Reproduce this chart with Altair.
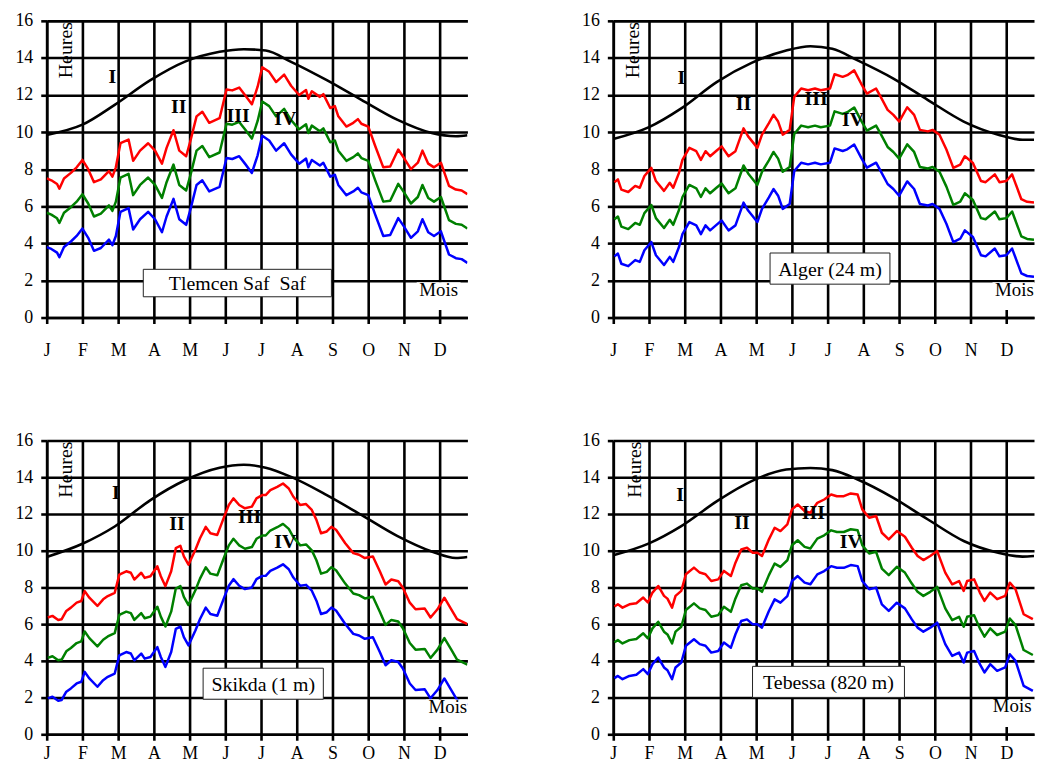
import json
import altair as alt
import pandas as pd

FONT = "Liberation Serif"
MONTHS = ["J", "F", "M", "A", "M", "J", "J", "A", "S", "O", "N", "D"]
MONTH_TICKS = [0, 31, 62, 93, 124, 155, 186, 217, 248, 279, 310, 341]
HOUR_TICKS = [0, 2, 4, 6, 8, 10, 12, 14, 16]
ROMANS = ["I", "II", "III", "IV"]
SERIES = ["rouge", "vert", "bleu"]
SERIES_COLORS = ["#ff0000", "#008000", "#0000ff"]

# ---------------- day length (black curve) ----------------
DL_DAYS = [0, 31, 59, 90, 120, 150, 171, 190, 212, 243, 273, 304, 334, 355, 365]
TLEMCEN_DL = [9.85, 10.4, 11.47, 12.8, 13.8, 14.33, 14.47, 14.4, 13.79, 12.8, 11.74, 10.67, 9.95, 9.78, 9.83]
ALGER_DL = [9.63, 10.27, 11.28, 12.71, 13.73, 14.4, 14.63, 14.49, 13.87, 12.89, 11.73, 10.57, 9.86, 9.59, 9.59]
SKIKDA_DL = [9.66, 10.38, 11.32, 12.76, 13.84, 14.52, 14.68, 14.52, 14.02, 13.03, 11.95, 10.81, 9.96, 9.6, 9.66]
TEBESSA_DL = [9.75, 10.4, 11.34, 12.7, 13.79, 14.42, 14.51, 14.39, 13.88, 12.88, 11.7, 10.53, 9.89, 9.68, 9.71]

# ---------------- Tlemcen ----------------
TLEMCEN_DAYS = [0, 4, 9, 11, 15, 21, 26, 31, 36, 41, 47, 54, 57, 60, 64, 71, 75, 81, 88, 94,
                100, 104, 110, 115, 121, 125, 130, 135, 141, 150, 156, 161, 167, 172, 178, 183, 187, 193, 199, 206,
                212, 219, 225, 227, 230, 237, 240, 246, 250, 253, 260, 266, 270, 273, 279, 285, 292, 298, 305, 310,
                316, 322, 326, 331, 336, 342, 349, 355, 360, 365]
TLEMCEN_RED = [7.5, 7.4, 7.2, 6.95, 7.5, 7.8, 8.1, 8.5, 8.0, 7.3, 7.45, 7.9, 7.6, 8.1, 9.4, 9.6, 8.45, 9.0, 9.4, 9.0,
               8.3, 9.15, 10.1, 9.0, 8.7, 9.6, 10.85, 11.1, 10.5, 10.75, 12.3, 12.25, 12.4, 12.0, 11.5, 12.45, 13.5, 13.25, 12.7, 13.1,
               12.5, 12.0, 12.27, 11.8, 12.2, 11.9, 12.05, 11.3, 11.4, 10.85, 10.3, 10.5, 10.7, 10.45, 10.3, 9.25, 8.1, 8.15, 9.06, 8.6,
               8.0, 8.35, 9.0, 8.3, 8.1, 8.35, 7.1, 6.9, 6.85, 6.65]
TLEMCEN_GREEN = [5.65, 5.55, 5.35, 5.1, 5.65, 5.95, 6.25, 6.65, 6.15, 5.45, 5.6, 6.05, 5.75, 6.25, 7.55, 7.75, 6.6, 7.15, 7.55, 7.15,
                 6.45, 7.3, 8.25, 7.15, 6.85, 7.75, 9.0, 9.25, 8.65, 8.9, 10.45, 10.4, 10.55, 10.15, 9.65, 10.6, 11.65, 11.4, 10.85, 11.25,
                 10.65, 10.15, 10.42, 9.95, 10.35, 10.05, 10.2, 9.45, 9.55, 9.0, 8.45, 8.65, 8.85, 8.6, 8.45, 7.4, 6.25, 6.3, 7.21, 6.75,
                 6.15, 6.5, 7.15, 6.45, 6.25, 6.5, 5.25, 5.05, 5.0, 4.8]
TLEMCEN_BLUE = [3.8, 3.7, 3.5, 3.25, 3.8, 4.1, 4.4, 4.8, 4.3, 3.6, 3.75, 4.2, 3.9, 4.4, 5.7, 5.9, 4.75, 5.3, 5.7, 5.3,
                4.6, 5.45, 6.4, 5.3, 5.0, 5.9, 7.15, 7.4, 6.8, 7.05, 8.6, 8.55, 8.7, 8.3, 7.8, 8.75, 9.8, 9.55, 9.0, 9.4,
                8.8, 8.3, 8.57, 8.1, 8.5, 8.2, 8.35, 7.6, 7.7, 7.15, 6.6, 6.8, 7.0, 6.75, 6.6, 5.55, 4.4, 4.45, 5.36, 4.9,
                4.3, 4.65, 5.3, 4.6, 4.4, 4.65, 3.4, 3.2, 3.15, 2.95]

# ---------------- Alger ----------------
ALGER_DAYS = [1, 4, 7, 13, 19, 23, 27, 33, 37, 44, 49, 52, 57, 60, 66, 72, 76, 80, 84, 89,
              94, 100, 106, 113, 117, 125, 129, 135, 139, 143, 147, 153, 157, 163, 169, 175, 180, 188, 192, 199,
              203, 209, 215, 220, 228, 232, 238, 243, 248, 255, 261, 266, 273, 277, 283, 289, 295, 301, 305, 312,
              319, 323, 331, 335, 341, 346, 354, 359, 365]
ALGER_RED = [7.3, 7.45, 6.9, 6.77, 7.1, 7.0, 7.63, 8.07, 7.36, 6.83, 7.27, 7.0, 7.8, 8.5, 9.15, 8.97, 8.5, 8.97, 8.7, 8.97,
             9.23, 8.7, 8.97, 10.2, 9.77, 9.15, 9.86, 10.48, 10.93, 10.57, 9.86, 10.12, 11.9, 12.35, 12.26, 12.35, 12.26, 12.35, 13.12, 12.98,
             13.07, 13.33, 12.62, 12.08, 12.35, 11.9, 11.2, 10.93, 10.57, 11.34, 10.93, 10.12, 10.04, 10.12, 9.86, 9.06, 8.07, 8.25, 8.7, 8.34,
             7.36, 7.3, 7.72, 7.3, 7.36, 7.72, 6.38, 6.24, 6.2]
ALGER_GREEN = [5.3, 5.45, 4.9, 4.77, 5.1, 5.0, 5.63, 6.07, 5.36, 4.83, 5.27, 5.0, 5.8, 6.5, 7.15, 6.97, 6.5, 6.97, 6.7, 6.97,
               7.23, 6.7, 6.97, 8.2, 7.77, 7.15, 7.86, 8.48, 8.93, 8.57, 7.86, 8.12, 9.9, 10.35, 10.26, 10.35, 10.26, 10.35, 11.12, 10.98,
               11.07, 11.33, 10.62, 10.08, 10.35, 9.9, 9.2, 8.93, 8.57, 9.34, 8.93, 8.12, 8.04, 8.12, 7.86, 7.06, 6.07, 6.25, 6.7, 6.34,
               5.36, 5.3, 5.72, 5.3, 5.36, 5.72, 4.38, 4.24, 4.2]
ALGER_BLUE = [3.3, 3.45, 2.9, 2.77, 3.1, 3.0, 3.63, 4.07, 3.36, 2.83, 3.27, 3.0, 3.8, 4.5, 5.15, 4.97, 4.5, 4.97, 4.7, 4.97,
              5.23, 4.7, 4.97, 6.2, 5.77, 5.15, 5.86, 6.48, 6.93, 6.57, 5.86, 6.12, 7.9, 8.35, 8.26, 8.35, 8.26, 8.35, 9.12, 8.98,
              9.07, 9.33, 8.62, 8.08, 8.35, 7.9, 7.2, 6.93, 6.57, 7.34, 6.93, 6.12, 6.04, 6.12, 5.86, 5.06, 4.07, 4.25, 4.7, 4.34,
              3.36, 3.3, 3.72, 3.3, 3.36, 3.72, 2.38, 2.24, 2.2]

# ---------------- Skikda ----------------
SKIKDA_DAYS = [1, 5, 10, 13, 17, 21, 26, 30, 33, 37, 44, 49, 53, 59, 63, 69, 73, 76, 82, 85,
               90, 96, 99, 103, 108, 112, 116, 119, 123, 129, 133, 138, 142, 148, 154, 158, 162, 167, 172, 178,
               182, 187, 190, 194, 200, 205, 210, 214, 220, 225, 230, 234, 238, 243, 247, 251, 259, 266, 271, 276,
               283, 289, 294, 299, 305, 309, 315, 320, 328, 333, 339, 345, 351, 356, 365]
SKIKDA_RED = [6.36, 6.45, 6.23, 6.27, 6.72, 6.9, 7.17, 7.26, 7.8, 7.44, 6.99, 7.35, 7.53, 7.71, 8.7, 8.88, 8.8, 8.43, 8.8, 8.52,
              8.61, 9.15, 8.61, 8.07, 8.88, 10.14, 10.27, 9.69, 9.24, 10.05, 10.68, 11.3, 10.95, 10.86, 11.86, 12.49, 12.85, 12.49, 12.31, 12.4,
              12.85, 13.03, 13.03, 13.3, 13.48, 13.66, 13.39, 12.94, 12.49, 12.54, 12.22, 11.68, 10.95, 11.05, 11.3, 11.14, 10.41, 9.87, 9.78, 9.6,
              9.69, 8.88, 8.16, 8.43, 8.34, 7.98, 7.17, 6.81, 6.85, 6.36, 6.81, 7.44, 6.81, 6.27, 6.0]
SKIKDA_GREEN = [4.16, 4.25, 4.03, 4.07, 4.52, 4.7, 4.97, 5.06, 5.6, 5.24, 4.79, 5.15, 5.33, 5.51, 6.5, 6.68, 6.6, 6.23, 6.6, 6.32,
                6.41, 6.95, 6.41, 5.87, 6.68, 7.94, 8.07, 7.49, 7.04, 7.85, 8.48, 9.1, 8.75, 8.66, 9.66, 10.29, 10.65, 10.29, 10.11, 10.2,
                10.65, 10.83, 10.83, 11.1, 11.28, 11.46, 11.19, 10.74, 10.29, 10.34, 10.02, 9.48, 8.75, 8.85, 9.1, 8.94, 8.21, 7.67, 7.58, 7.4,
                7.49, 6.68, 5.96, 6.23, 6.14, 5.78, 4.97, 4.61, 4.65, 4.16, 4.61, 5.24, 4.61, 4.07, 3.8]
SKIKDA_BLUE = [1.96, 2.05, 1.83, 1.87, 2.32, 2.5, 2.77, 2.86, 3.4, 3.04, 2.59, 2.95, 3.13, 3.31, 4.3, 4.48, 4.4, 4.03, 4.4, 4.12,
               4.21, 4.75, 4.21, 3.67, 4.48, 5.74, 5.87, 5.29, 4.84, 5.65, 6.28, 6.9, 6.55, 6.46, 7.46, 8.09, 8.45, 8.09, 7.91, 8.0,
               8.45, 8.63, 8.63, 8.9, 9.08, 9.26, 8.99, 8.54, 8.09, 8.14, 7.82, 7.28, 6.55, 6.65, 6.9, 6.74, 6.01, 5.47, 5.38, 5.2,
               5.29, 4.48, 3.76, 4.03, 3.94, 3.58, 2.77, 2.41, 2.45, 1.96, 2.41, 3.04, 2.41, 1.87, 1.6]

# ---------------- Tebessa ----------------
TEBESSA_DAYS = [1, 4, 8, 14, 20, 26, 30, 34, 39, 44, 47, 51, 54, 59, 63, 70, 75, 80, 85, 91,
                96, 102, 106, 111, 116, 121, 125, 129, 135, 140, 145, 151, 155, 160, 166, 171, 177, 183, 189, 194,
                200, 206, 212, 216, 222, 228, 233, 239, 246, 253, 259, 264, 269, 275, 281, 288, 294, 300, 304, 307,
                313, 318, 322, 327, 333, 340, 344, 349, 356, 364]
TEBESSA_RED = [6.96, 7.08, 6.9, 7.08, 7.14, 7.45, 7.18, 7.72, 8.08, 7.54, 7.39, 6.9, 7.54, 7.81, 8.72, 9.08, 8.81, 8.72, 8.35, 8.44,
               8.9, 8.62, 9.35, 10.07, 10.16, 9.89, 9.89, 9.71, 10.62, 11.25, 11.07, 11.43, 12.25, 12.52, 12.16, 12.07, 12.61, 12.79, 13.06, 12.97,
               12.97, 13.12, 13.06, 12.25, 11.8, 11.89, 10.98, 10.62, 11.07, 10.76, 10.16, 9.71, 9.49, 9.71, 9.98, 8.81, 8.17, 8.35, 7.81, 8.35,
               8.44, 7.72, 7.27, 7.72, 7.36, 7.54, 8.26, 7.9, 6.54, 6.27]
TEBESSA_GREEN = [5.01, 5.13, 4.95, 5.13, 5.19, 5.5, 5.23, 5.77, 6.13, 5.59, 5.44, 4.95, 5.59, 5.86, 6.77, 7.13, 6.86, 6.77, 6.4, 6.49,
                 6.95, 6.67, 7.4, 8.12, 8.21, 7.94, 7.94, 7.76, 8.67, 9.3, 9.12, 9.48, 10.3, 10.57, 10.21, 10.12, 10.66, 10.84, 11.11, 11.02,
                 11.02, 11.17, 11.11, 10.3, 9.85, 9.94, 9.03, 8.67, 9.12, 8.81, 8.21, 7.76, 7.54, 7.76, 8.03, 6.86, 6.22, 6.4, 5.86, 6.4,
                 6.49, 5.77, 5.32, 5.77, 5.41, 5.59, 6.31, 5.95, 4.59, 4.32]
TEBESSA_BLUE = [3.06, 3.18, 3.0, 3.18, 3.24, 3.55, 3.28, 3.82, 4.18, 3.64, 3.49, 3.0, 3.64, 3.91, 4.82, 5.18, 4.91, 4.82, 4.45, 4.54,
                5.0, 4.72, 5.45, 6.17, 6.26, 5.99, 5.99, 5.81, 6.72, 7.35, 7.17, 7.53, 8.35, 8.62, 8.26, 8.17, 8.71, 8.89, 9.16, 9.07,
                9.07, 9.22, 9.16, 8.35, 7.9, 7.99, 7.08, 6.72, 7.17, 6.86, 6.26, 5.81, 5.59, 5.81, 6.08, 4.91, 4.27, 4.45, 3.91, 4.45,
                4.54, 3.82, 3.37, 3.82, 3.46, 3.64, 4.36, 4.0, 2.64, 2.37]

# ---------------- annotations (day, hours) ----------------
STATION_LABELS = ["Tlemcen Saf\u00a0 Saf", "Alger (24 m)", "Skikda (1 m)", "Tebessa (820 m)"]
LABEL_BOX_DAY = [(83.8, 247.0), (136.0, 240.0), (135.7, 240.0), (120.8, 252.6)]
LABEL_BOX_H = [(2.6, 1.12), (3.48, 1.8), (3.6, 1.91), (3.7, 2.01)]
ROMAN_DAY = [[57, 114.5, 166, 207], [59, 113, 176, 208], [60, 113, 176, 207], [58, 111.6, 173.6, 206]]
ROMAN_H = [[12.95, 11.35, 10.85, 10.7], [12.94, 11.5, 11.8, 10.66], [13.15, 11.46, 11.86, 10.45], [13.06, 11.49, 12.03, 10.47]]
HEURES_DAY = [16.4, 17.2, 16.8, 19.0]
HEURES_H = 14.42
MOIS_DAY = [340, 348, 348, 346]
MOIS_H = [1.15, 1.14, 1.17, 1.19]


def x_enc(label_padding, extent):
    return alt.X(
        "day:Q",
        scale=alt.Scale(domain=[0, 365], nice=False, zero=False),
        axis=alt.Axis(
            values=MONTH_TICKS, title=None,
            labelExpr=json.dumps(MONTHS) + "[round(datum.value / 31)]",
            grid=True, gridColor="black", gridWidth=2.6, gridOpacity=1,
            domainColor="black", domainWidth=2.6,
            tickColor="black", tickWidth=2.6, tickSize=6,
            labelFont=FONT, labelFontSize=18, labelColor="black",
            labelPadding=label_padding, labelAngle=0, labelFlush=False, labelOverlap=False,
            minExtent=extent, maxExtent=extent,
        ),
    )


def y_enc():
    return alt.Y(
        "h:Q",
        scale=alt.Scale(domain=[0, 16], nice=False, zero=False),
        axis=alt.Axis(
            values=HOUR_TICKS, title=None,
            grid=True, gridColor="black", gridWidth=2.6, gridOpacity=1,
            domainColor="black", domainWidth=2.6,
            tickColor="black", tickWidth=2.6, tickSize=6,
            labelFont=FONT, labelFontSize=18, labelColor="black",
            labelPadding=8, labelFlush=False, labelOverlap=False,
            minExtent=33, maxExtent=33,
        ),
    )


def panel(i, days, red, green, blue, dl, width, height, label_padding, extent):
    X = lambda: x_enc(label_padding, extent)
    dl_df = pd.DataFrame({"day": DL_DAYS, "h": dl})
    noisy = pd.DataFrame({
        "day": days * 3,
        "h": red + green + blue,
        "serie": [SERIES[0]] * len(days) + [SERIES[1]] * len(days) + [SERIES[2]] * len(days),
    })
    box = pd.DataFrame({"day": [LABEL_BOX_DAY[i][0]], "day2": [LABEL_BOX_DAY[i][1]],
                        "h": [LABEL_BOX_H[i][0]], "h2": [LABEL_BOX_H[i][1]]})
    lab = pd.DataFrame({"day": [(LABEL_BOX_DAY[i][0] + LABEL_BOX_DAY[i][1]) / 2],
                        "h": [(LABEL_BOX_H[i][0] + LABEL_BOX_H[i][1]) / 2],
                        "t": [STATION_LABELS[i]]})
    romans = pd.DataFrame({"day": ROMAN_DAY[i], "h": ROMAN_H[i], "t": ROMANS})
    heures = pd.DataFrame({"day": [HEURES_DAY[i]], "h": [HEURES_H], "t": ["Heures"]})
    mois = pd.DataFrame({"day": [MOIS_DAY[i]], "h": [MOIS_H[i]], "t": ["Mois"]})
    mois_bg = pd.DataFrame({"day": [MOIS_DAY[i] - 19], "day2": [MOIS_DAY[i] + 19],
                            "h": [1.9], "h2": [0.4]})

    black = alt.Chart(dl_df).mark_line(color="black", strokeWidth=2.6, interpolate="monotone", clip=True).encode(
        x=X(), y=y_enc())
    lines = alt.Chart(noisy).mark_line(strokeWidth=2.5, strokeJoin="round", clip=True).encode(
        x=X(), y=y_enc(),
        color=alt.Color("serie:N", scale=alt.Scale(domain=SERIES, range=SERIES_COLORS), legend=None),
        detail="serie:N",
    )
    box_l = alt.Chart(box).mark_rect(fill="white", stroke="#222222", strokeWidth=1, clip=True).encode(
        x=X(), x2="day2:Q", y=y_enc(), y2="h2:Q")
    lab_l = alt.Chart(lab).mark_text(font=FONT, fontSize=20, color="black", baseline="middle", dy=1,
                                     clip=True).encode(x=X(), y=y_enc(), text="t:N")
    rom_l = alt.Chart(romans).mark_text(font=FONT, fontSize=20, fontWeight="bold", color="black",
                                        baseline="middle", clip=True).encode(x=X(), y=y_enc(), text="t:N")
    heu_l = alt.Chart(heures).mark_text(font=FONT, fontSize=20, color="black", angle=270,
                                        baseline="middle", align="center", clip=True).encode(
        x=X(), y=y_enc(), text="t:N")
    mbg_l = alt.Chart(mois_bg).mark_rect(fill="white", clip=True).encode(
        x=X(), x2="day2:Q", y=y_enc(), y2="h2:Q")
    mois_l = alt.Chart(mois).mark_text(font=FONT, fontSize=19, color="black", baseline="alphabetic",
                                       clip=True).encode(x=X(), y=y_enc(), text="t:N")

    return alt.layer(black, lines, box_l, lab_l, mbg_l, mois_l, rom_l, heu_l).properties(
        width=width, height=height)


p1 = panel(0, TLEMCEN_DAYS, TLEMCEN_RED, TLEMCEN_GREEN, TLEMCEN_BLUE, TLEMCEN_DL, 424, 299, 18, 42)
p2 = panel(1, ALGER_DAYS, ALGER_RED, ALGER_GREEN, ALGER_BLUE, ALGER_DL, 424, 299, 18, 42)
p3 = panel(2, SKIKDA_DAYS, SKIKDA_RED, SKIKDA_GREEN, SKIKDA_BLUE, SKIKDA_DL, 424, 296, 4, 28)
p4 = panel(3, TEBESSA_DAYS, TEBESSA_RED, TEBESSA_GREEN, TEBESSA_BLUE, TEBESSA_DL, 424, 296, 4, 28)

chart = alt.concat(
    p1, p2, p3, p4,
    columns=2,
    spacing={"row": 124, "column": 147},
    bounds="flush",
).properties(
    padding={"left": 5, "top": 0, "right": 0, "bottom": -1},
    background="white",
).configure_view(stroke="transparent")

chart.save("out.html", embed_options={"renderer": "svg", "actions": False})
